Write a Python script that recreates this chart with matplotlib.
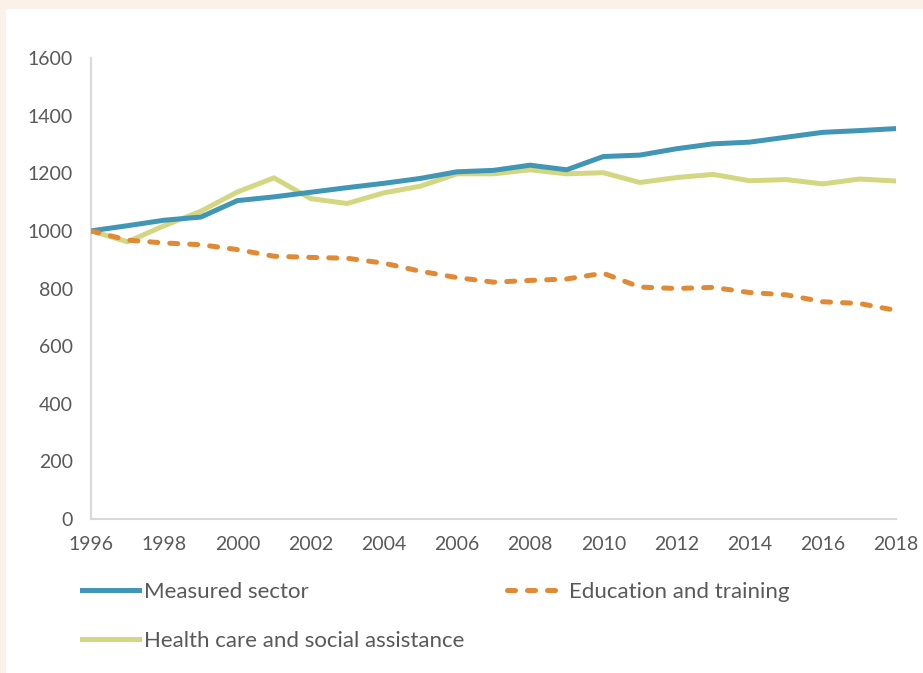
import matplotlib.pyplot as plt
from matplotlib.patches import Rectangle

# index values, 1996 = 1000
years = list(range(1996, 2019))
measured = [1000, 1018, 1037, 1048, 1105, 1118, 1134, 1150, 1165, 1182, 1205,
            1210, 1228, 1212, 1258, 1263, 1285, 1302, 1308, 1325, 1342, 1348, 1355]
education = [1000, 968, 958, 952, 935, 912, 908, 905, 888, 860, 838,
             822, 828, 833, 853, 805, 800, 804, 786, 778, 754, 748, 724]
health = [1000, 962, 1018, 1068, 1135, 1184, 1112, 1095, 1132, 1155, 1198,
          1198, 1212, 1198, 1202, 1168, 1185, 1196, 1174, 1178, 1163, 1180, 1173]

labels = ["Measured sector", "Education and training", "Health care and social assistance"]
colors = ["#4096b4", "#e08a35", "#d4d781"]

plt.rcParams['font.family'] = ['Lato', 'DejaVu Sans']

fig = plt.figure(figsize=(9.23, 6.73), dpi=100, facecolor="#fbf1e8")
fig.patches.append(Rectangle((6 / 923, 0), 1, (673 - 9) / 673, transform=fig.transFigure,
                             facecolor="white", edgecolor="none", zorder=-5))

ax = fig.add_axes([91 / 923, 1 - 519 / 673, (896 - 91) / 923, (519 - 58) / 673])
ax.set_facecolor("none")

l1, = ax.plot(years, measured, color=colors[0], lw=3.6, label=labels[0], zorder=3)
l3, = ax.plot(years, health, color=colors[2], lw=3.6, label=labels[2], zorder=2)
l2, = ax.plot(years, education, color=colors[1], lw=3.6, label=labels[1], zorder=4,
              dashes=(1.6, 2.4), dash_capstyle="round")

ax.set_xlim(1996, 2018)
ax.set_ylim(0, 1600)
ax.set_xticks(range(1996, 2019, 2))
ax.set_yticks(range(0, 1601, 200))

for s in ["top", "right"]:
    ax.spines[s].set_visible(False)
for s in ["left", "bottom"]:
    ax.spines[s].set_color("#d9d9d9")
    ax.spines[s].set_linewidth(1.5)
ax.tick_params(length=0, labelsize=14, colors="#595959")
ax.tick_params(axis="y", pad=13)
ax.tick_params(axis="x", pad=12)

# legend fills column by column: measured + health on the left, education on the right
fig.legend(handles=[l1, l3, l2], loc="upper left", bbox_to_anchor=(62 / 923, 1 - 562 / 673),
           ncol=2, frameon=False, fontsize=16, labelcolor="#595959",
           handlelength=2.55, handletextpad=0.25, columnspacing=1.9, labelspacing=1.3)

fig.savefig("out.png", dpi=100, facecolor=fig.get_facecolor())
